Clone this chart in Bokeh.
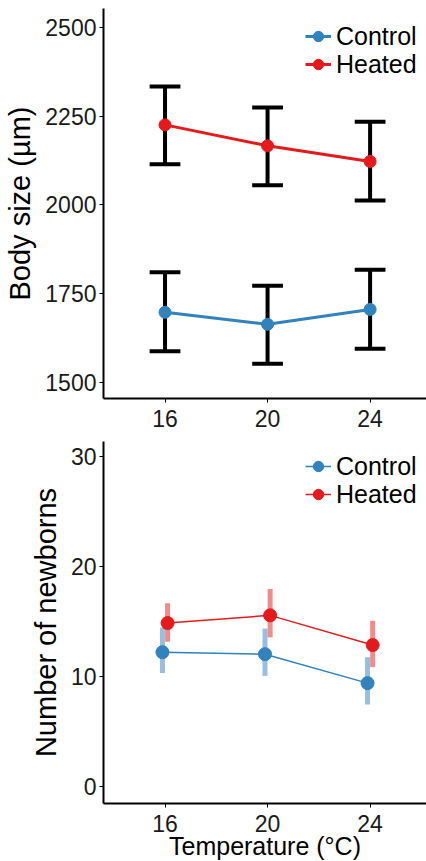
from bokeh.plotting import figure
from bokeh.models import ColumnDataSource, FixedTicker, Range1d, Legend, LegendItem
from bokeh.layouts import column
from bokeh.embed import file_html
from bokeh.resources import INLINE

# ---------------- data ----------------
temps = [16, 20, 24]
temp_ticks = [16, 20, 24]

size_control_mean = [1697, 1663, 1705]
size_control_lo = [1587, 1552, 1594]
size_control_hi = [1810, 1772, 1817]
size_heated_mean = [2225, 2166, 2122]
size_heated_lo = [2114, 2055, 2012]
size_heated_hi = [2333, 2274, 2234]
size_ticks = [1500, 1750, 2000, 2250, 2500]

newborn_control_mean = [12.25, 12.07, 9.44]
newborn_control_lo = [10.35, 10.1, 7.5]
newborn_control_hi = [14.5, 14.4, 11.8]
newborn_heated_mean = [14.9, 15.6, 12.9]
newborn_heated_lo = [13.2, 13.6, 10.9]
newborn_heated_hi = [16.7, 18.0, 15.1]
newborn_ticks = [0, 10, 20, 30]

BLUE = "#3182BD"
RED = "#E41A1C"
FONT = "Liberation Sans"
CAP = 0.6   # half width of caps (x units)
DODGE = 0.1
ROW = 40    # legend row height (px)


def style(p, yticks):
    p.xaxis.ticker = FixedTicker(ticks=temp_ticks)
    p.yaxis.ticker = FixedTicker(ticks=yticks)
    p.xgrid.visible = False
    p.ygrid.visible = False
    p.outline_line_color = None
    for ax in (p.xaxis[0], p.yaxis[0]):
        ax.axis_line_width = 2
        ax.axis_line_color = "black"
        ax.major_tick_line_width = 1
        ax.major_tick_line_color = "black"
        ax.major_tick_out = 4
        ax.major_tick_in = 0
        ax.minor_tick_line_color = None
        ax.major_label_text_font = FONT
        ax.major_label_text_font_size = "23px"
        ax.major_label_text_color = "#1a1a1a"
        ax.axis_label_text_font = FONT
        ax.axis_label_text_font_style = "normal"
        ax.axis_label_text_color = "black"
    p.xaxis.major_label_standoff = 7
    p.yaxis.major_label_standoff = 3


def add_legend(p, item, loc):
    p.add_layout(Legend(items=[item], location=loc, padding=0, margin=0, spacing=0,
                        glyph_width=26, glyph_height=ROW, label_height=ROW, label_standoff=5,
                        label_text_font=FONT, label_text_font_size="25px",
                        label_text_color="black",
                        border_line_alpha=0, background_fill_alpha=0), "center")


# ---------------- top panel ----------------
top = figure(frame_width=323, frame_height=390, output_backend="svg", toolbar_location=None,
             x_range=Range1d(13.6, 26.2), y_range=Range1d(1454, 2553),
             min_border_left=103, min_border_right=0, min_border_top=8, min_border_bottom=38)
style(top, size_ticks)
top.yaxis.axis_label = "Body size (µm)"
top.yaxis.axis_label_text_font_size = "29px"
top.yaxis.axis_label_standoff = 6

for lo, hi in ((size_control_lo, size_control_hi), (size_heated_lo, size_heated_hi)):
    src = ColumnDataSource(dict(x=temps, lo=lo, hi=hi,
                                xl=[t - CAP for t in temps], xr=[t + CAP for t in temps]))
    top.segment(x0="x", y0="lo", x1="x", y1="hi", source=src, line_color="black", line_width=4)
    top.segment(x0="xl", y0="lo", x1="xr", y1="lo", source=src, line_color="black", line_width=4)
    top.segment(x0="xl", y0="hi", x1="xr", y1="hi", source=src, line_color="black", line_width=4)

top_legend_y = [342, 314]
for (name, mean, col), ly in zip((("Control", size_control_mean, BLUE),
                                  ("Heated", size_heated_mean, RED)), top_legend_y):
    l = top.line(temps, mean, line_color=col, line_width=3)
    s = top.scatter(temps, mean, size=12, fill_color=col, line_color=col)
    add_legend(top, LegendItem(label=name, renderers=[l, s]), (202, ly))

# ---------------- bottom panel ----------------
bot = figure(frame_width=323, frame_height=362, output_backend="svg", toolbar_location=None,
             x_range=Range1d(13.6, 26.2), y_range=Range1d(-1.5, 31.4),
             min_border_left=103, min_border_right=0, min_border_top=5, min_border_bottom=58)
style(bot, newborn_ticks)
bot.yaxis.axis_label = "Number of newborns"
bot.yaxis.axis_label_text_font_size = "29px"
bot.yaxis.axis_label_standoff = 6
bot.xaxis.axis_label = "Temperature (°C)"
bot.xaxis.axis_label_text_font_size = "25px"
bot.xaxis.axis_label_standoff = -3

series = (("Control", newborn_control_mean, newborn_control_lo, newborn_control_hi, BLUE, -DODGE),
          ("Heated", newborn_heated_mean, newborn_heated_lo, newborn_heated_hi, RED, DODGE))

for name, mean, lo, hi, col, off in series:
    xs = [t + off for t in temps]
    bot.segment(x0=xs, y0=lo, x1=xs, y1=hi, line_color=col, line_alpha=0.5, line_width=5)

lines = {}
for name, mean, lo, hi, col, off in series:
    xs = [t + off for t in temps]
    lines[name] = bot.line(xs, mean, line_color=col, line_width=1.5)

bot_legend_y = [317, 289]
for (name, mean, lo, hi, col, off), ly in zip(series, bot_legend_y):
    xs = [t + off for t in temps]
    s = bot.scatter(xs, mean, size=13, fill_color=col, line_color=col)
    add_legend(bot, LegendItem(label=name, renderers=[lines[name], s]), (202, ly))

layout = column(top, bot, spacing=0)
open("out.html", "w").write(file_html(layout, INLINE))
